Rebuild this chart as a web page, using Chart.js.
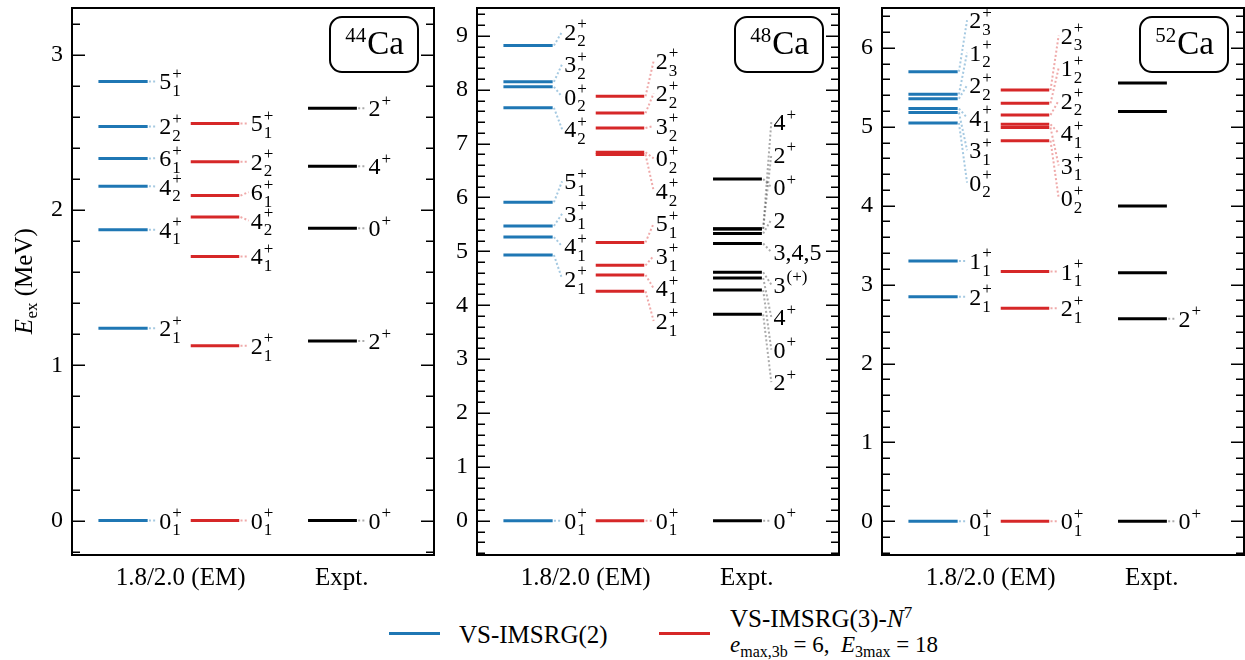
<!DOCTYPE html>
<html>
<head>
<meta charset="utf-8">
<script src="https://cdn.jsdelivr.net/npm/chart.js@4.4.1/dist/chart.umd.min.js"></script>
<style>
  body { margin: 0; background: #fff; width: 1245px; height: 660px; position: relative; overflow: hidden; font-family: "Liberation Serif", serif; }
  canvas { position: absolute; top: 0; }
  .key { position: absolute; height: 3px; width: 51px; }
  .lt { position: absolute; font-size: 25px; line-height: 25px; white-space: nowrap; color: #000; }
  .lt sup { font-size: 17px; line-height: 0; vertical-align: 9px; }
  .lt sub { font-size: 16px; line-height: 0; vertical-align: -5px; }
</style>
</head>
<body>
<canvas id="p44" width="440" height="600" style="left:0"></canvas>
<canvas id="p48" width="410" height="600" style="left:440px"></canvas>
<canvas id="p52" width="405" height="600" style="left:840px"></canvas>

<div class="key" style="left:389px;top:632px;background:#1f77b4"></div>
<div class="lt" style="left:459px;top:622px">VS-IMSRG(2)</div>
<div class="key" style="left:659px;top:632px;background:#d62728"></div>
<div class="lt" style="left:730px;top:606px">VS-IMSRG(3)-<i>N</i><sup>7</sup></div>
<div class="lt" style="left:730px;top:633px;font-size:23px;line-height:23px"><i>e</i><sub>max,3b</sub>&nbsp;=&nbsp;6,&nbsp;&nbsp;<i>E</i><sub>3max</sub>&nbsp;=&nbsp;18</div>

<script>
// column names on the x axis and where they sit (axis runs 0..100)
const columns = ['1.8/2.0 (EM)', 'Expt.'];
const columnTicks = [30, 74.5];

// 44Ca
const ca44Imsrg2 = [0, 1.239, 1.874, 2.155, 2.333, 2.54, 2.83];
const ca44Imsrg2Labels = ['0_1^+', '2_1^+', '4_1^+', '4_2^+', '6_1^+', '2_2^+', '5_1^+'];
const ca44Imsrg3 = [0, 1.126, 1.702, 1.956, 2.094, 2.313, 2.559];
const ca44Imsrg3Labels = ['0_1^+', '2_1^+', '4_1^+', '4_2^+', '6_1^+', '2_2^+', '5_1^+'];
const ca44Expt = [0, 1.157, 1.884, 2.283, 2.657];
const ca44ExptLabels = ['0^+', '2^+', '0^+', '4^+', '2^+'];

// 48Ca
const ca48Imsrg2 = [0, 4.933, 5.266, 5.472, 5.912, 7.665, 8.055, 8.147, 8.82];
const ca48Imsrg2Labels = ['0_1^+', '2_1^+', '4_1^+', '3_1^+', '5_1^+', '4_2^+', '0_2^+', '3_2^+', '2_2^+'];
const ca48Imsrg3 = [0, 4.258, 4.563, 4.741, 5.167, 6.80, 6.84, 7.289, 7.566, 7.878];
const ca48Imsrg3Labels = ['0_1^+', '2_1^+', '4_1^+', '3_1^+', '5_1^+', '4_2^+', '0_2^+', '3_2^+', '2_2^+', '2_3^+'];
const ca48Expt = [0, 3.832, 4.283, 4.507, 4.612, 5.146, 5.33, 6.342, 5.416, 5.42];
const ca48ExptLabels = ['0^+', '2^+', '0^+', '4^+', '3^(+)', '3,4,5', '2', '0^+', '2^+', '4^+'];

// 52Ca
const ca52Imsrg2 = [0, 2.845, 3.30, 5.047, 5.18, 5.23, 5.355, 5.41, 5.697];
const ca52Imsrg2Labels = ['0_1^+', '2_1^+', '1_1^+', '0_2^+', '3_1^+', '4_1^+', '2_2^+', '1_2^+', '2_3^+'];
const ca52Imsrg3 = [0, 2.70, 3.165, 4.823, 4.99, 5.03, 5.148, 5.297, 5.465];
const ca52Imsrg3Labels = ['0_1^+', '2_1^+', '1_1^+', '0_2^+', '3_1^+', '4_1^+', '2_2^+', '1_2^+', '2_3^+'];
const ca52Expt = [0, 2.568, 3.150, 3.995, 5.194, 5.553];
const ca52ExptLabels = ['0^+', '2^+', '', '', '', ''];

// styling
const COLS = [[7.3, 20.9], [32.8, 46.2], [65.2, 78.7]];
const LEVEL_COLORS = ['#1f77b4', '#d62728', '#000000'];
const DOT_COLORS = ['rgba(31,119,180,0.4)', 'rgba(214,39,40,0.4)', 'rgba(0,0,0,0.33)'];
const DOT_X0 = 0.35, DOT_X1 = 2.6, LABEL_DX = 3.2;
const PLOT_TOP = 8, PLOT_H = 547;
const FONT = '"Liberation Serif", serif';

const panels = [
  { id: 'p44', mass: '44', yMin: -0.222, yMax: 3.303, gapPx: 28.5, axisW: 72, padRight: 6, yTitle: true,
    series: [[ca44Imsrg2, ca44Imsrg2Labels], [ca44Imsrg3, ca44Imsrg3Labels], [ca44Expt, ca44ExptLabels]] },
  { id: 'p48', mass: '48', yMin: -0.635, yMax: 9.517, gapPx: 32.5, axisW: 37, padRight: 11, yTitle: false,
    series: [[ca48Imsrg2, ca48Imsrg2Labels], [ca48Imsrg3, ca48Imsrg3Labels], [ca48Expt, ca48ExptLabels]] },
  { id: 'p52', mass: '52', yMin: -0.426, yMax: 6.504, gapPx: 32.5, axisW: 42, padRight: 1, yTitle: false,
    series: [[ca52Imsrg2, ca52Imsrg2Labels], [ca52Imsrg3, ca52Imsrg3Labels], [ca52Expt, ca52ExptLabels]] }
];

// push labels apart so neighbours keep a minimum gap; clusters stay centred on their levels
function spreadLabels(levels, labels, gap) {
  const groups = [];
  levels.forEach((e, i) => {
    if (!labels[i]) return;
    groups.push({ items: [i], c: e });
    while (groups.length > 1) {
      const a = groups[groups.length - 2], b = groups[groups.length - 1];
      const aTop = a.c + (a.items.length - 1) / 2 * gap;
      const bBot = b.c - (b.items.length - 1) / 2 * gap;
      if (bBot - aTop >= gap) break;
      const items = a.items.concat(b.items);
      groups.splice(-2, 2, { items, c: items.reduce((s, j) => s + levels[j], 0) / items.length });
    }
  });
  const pos = [];
  groups.forEach(g => g.items.forEach((i, k) => { pos[i] = g.c + (k - (g.items.length - 1) / 2) * gap; }));
  return pos;
}

function drawLabel(ctx, text, x, y) {
  const m = text.match(/^([^_^]*)(?:_([^^]*))?(?:\^(.*))?$/);
  const base = m[1], sub = m[2], sup = m[3];
  const by = y + 8;
  ctx.fillStyle = '#000';
  ctx.textAlign = 'left';
  ctx.textBaseline = 'alphabetic';
  ctx.font = '24px ' + FONT;
  ctx.fillText(base, x, by);
  const w = ctx.measureText(base).width;
  ctx.font = '17px ' + FONT;
  if (sub) ctx.fillText(sub, x + w + 1, by + 6.7);
  if (sup) ctx.fillText(sup, x + w + 1, by - 10.5);
}

function drawTitle(ctx, a, mass) {
  const w = 88, h = 55;
  const bx = a.right - 16 - w, by = a.top + 9;
  ctx.beginPath();
  ctx.roundRect(bx, by, w, h, 12);
  ctx.fillStyle = '#fff';
  ctx.fill();
  ctx.lineWidth = 2;
  ctx.strokeStyle = '#000';
  ctx.stroke();
  ctx.fillStyle = '#000';
  ctx.textAlign = 'left';
  ctx.textBaseline = 'alphabetic';
  ctx.font = '21px ' + FONT;
  const w1 = ctx.measureText(mass).width;
  ctx.font = '33px ' + FONT;
  const w2 = ctx.measureText('Ca').width;
  const tx = bx + (w - w1 - w2) / 2;
  ctx.font = '21px ' + FONT;
  ctx.fillText(mass, tx, by + 25);
  ctx.font = '33px ' + FONT;
  ctx.fillText('Ca', tx + w1 + 1, by + 37);
}

function drawYTitle(ctx, cx, cy) {
  ctx.save();
  ctx.translate(cx, cy);
  ctx.rotate(-Math.PI / 2);
  ctx.fillStyle = '#000';
  ctx.textBaseline = 'alphabetic';
  ctx.textAlign = 'left';
  const parts = [['italic 25px ' + FONT, 'E', 0], ['17px ' + FONT, 'ex', 5], ['25px ' + FONT, ' (MeV)', 0]];
  let total = 0;
  parts.forEach(p => { ctx.font = p[0]; p.push(ctx.measureText(p[1]).width); total += p[3]; });
  let x = -total / 2;
  parts.forEach(p => { ctx.font = p[0]; ctx.fillText(p[1], x, 8.5 + p[2]); x += p[3] + (p[1] === 'E' ? 0.5 : 0); });
  ctx.restore();
}

panels.forEach(p => {
  const unit = (p.yMax - p.yMin) / PLOT_H;
  const labelPos = p.series.map(([e, lab]) => spreadLabels(e, lab, p.gapPx * unit));

  const datasets = [];
  p.series.forEach(([levels, labels], k) => {
    const [x0, x1] = COLS[k];
    levels.forEach((e, i) => {
      datasets.push({ data: [{ x: x0, y: e }, { x: x1, y: e }], showLine: true,
        borderColor: LEVEL_COLORS[k], borderWidth: 3, pointRadius: 0, order: 0 });
      if (labels[i]) {
        datasets.push({ data: [{ x: x1 + DOT_X0, y: e }, { x: x1 + DOT_X1, y: labelPos[k][i] }], showLine: true,
          borderColor: DOT_COLORS[k], borderWidth: 2, borderDash: [2, 2.2], pointRadius: 0, order: 1 });
      }
    });
  });

  const decor = {
    id: 'decor',
    afterDraw(chart) {
      const { ctx, chartArea: a, scales: { x, y } } = chart;
      ctx.save();
      ctx.strokeStyle = '#000';
      ctx.lineWidth = 1.5;
      const first = Math.ceil(y.min / 0.2 - 1e-6);
      for (let k = first; k * 0.2 <= y.max + 1e-9; k++) {
        const py = Math.round(y.getPixelForValue(k * 0.2)) + 0.25;
        const len = k % 5 === 0 ? 13 : 8;
        ctx.beginPath();
        ctx.moveTo(a.left, py); ctx.lineTo(a.left + len, py);
        ctx.moveTo(a.right, py); ctx.lineTo(a.right - len, py);
        ctx.stroke();
      }
      ctx.lineWidth = 2;
      ctx.strokeRect(a.left, a.top, a.right - a.left, a.bottom - a.top);

      p.series.forEach(([levels, labels], k) => {
        const lx = x.getPixelForValue(COLS[k][1] + LABEL_DX);
        labels.forEach((t, i) => { if (t) drawLabel(ctx, t, lx, y.getPixelForValue(labelPos[k][i])); });
      });
      drawTitle(ctx, a, p.mass);
      if (p.yTitle) drawYTitle(ctx, 23, (a.top + a.bottom) / 2);
      ctx.restore();
    }
  };

  new Chart(document.getElementById(p.id), {
    type: 'scatter',
    data: { datasets },
    options: {
      responsive: false,
      animation: false,
      events: [],
      layout: { padding: { top: PLOT_TOP, right: p.padRight, left: 0, bottom: 0 } },
      elements: { line: { tension: 0, borderCapStyle: 'butt' }, point: { radius: 0 } },
      plugins: { legend: { display: false }, tooltip: { enabled: false } },
      scales: {
        x: {
          type: 'linear', min: 0, max: 100,
          grid: { display: false, drawTicks: false }, border: { display: false },
          afterBuildTicks: s => { s.ticks = columnTicks.map(v => ({ value: v })); },
          afterFit: s => { s.height = 45; s.paddingLeft = 0; s.paddingRight = 0; },
          ticks: { autoSkip: false, maxRotation: 0, minRotation: 0, padding: 8, color: '#000',
            font: { family: FONT, size: 25 }, callback: (v, i) => columns[i] }
        },
        y: {
          type: 'linear', min: p.yMin, max: p.yMax,
          grid: { display: false, drawTicks: false }, border: { display: false },
          afterBuildTicks: s => {
            const t = [];
            for (let v = Math.ceil(s.min); v <= Math.floor(s.max); v++) t.push({ value: v });
            s.ticks = t;
          },
          afterFit: s => { s.width = p.axisW; s.paddingTop = 0; s.paddingBottom = 0; },
          ticks: { padding: 9, color: '#000', font: { family: FONT, size: 24 }, callback: v => String(v) }
        }
      }
    },
    plugins: [decor]
  });
});
</script>
</body>
</html>
